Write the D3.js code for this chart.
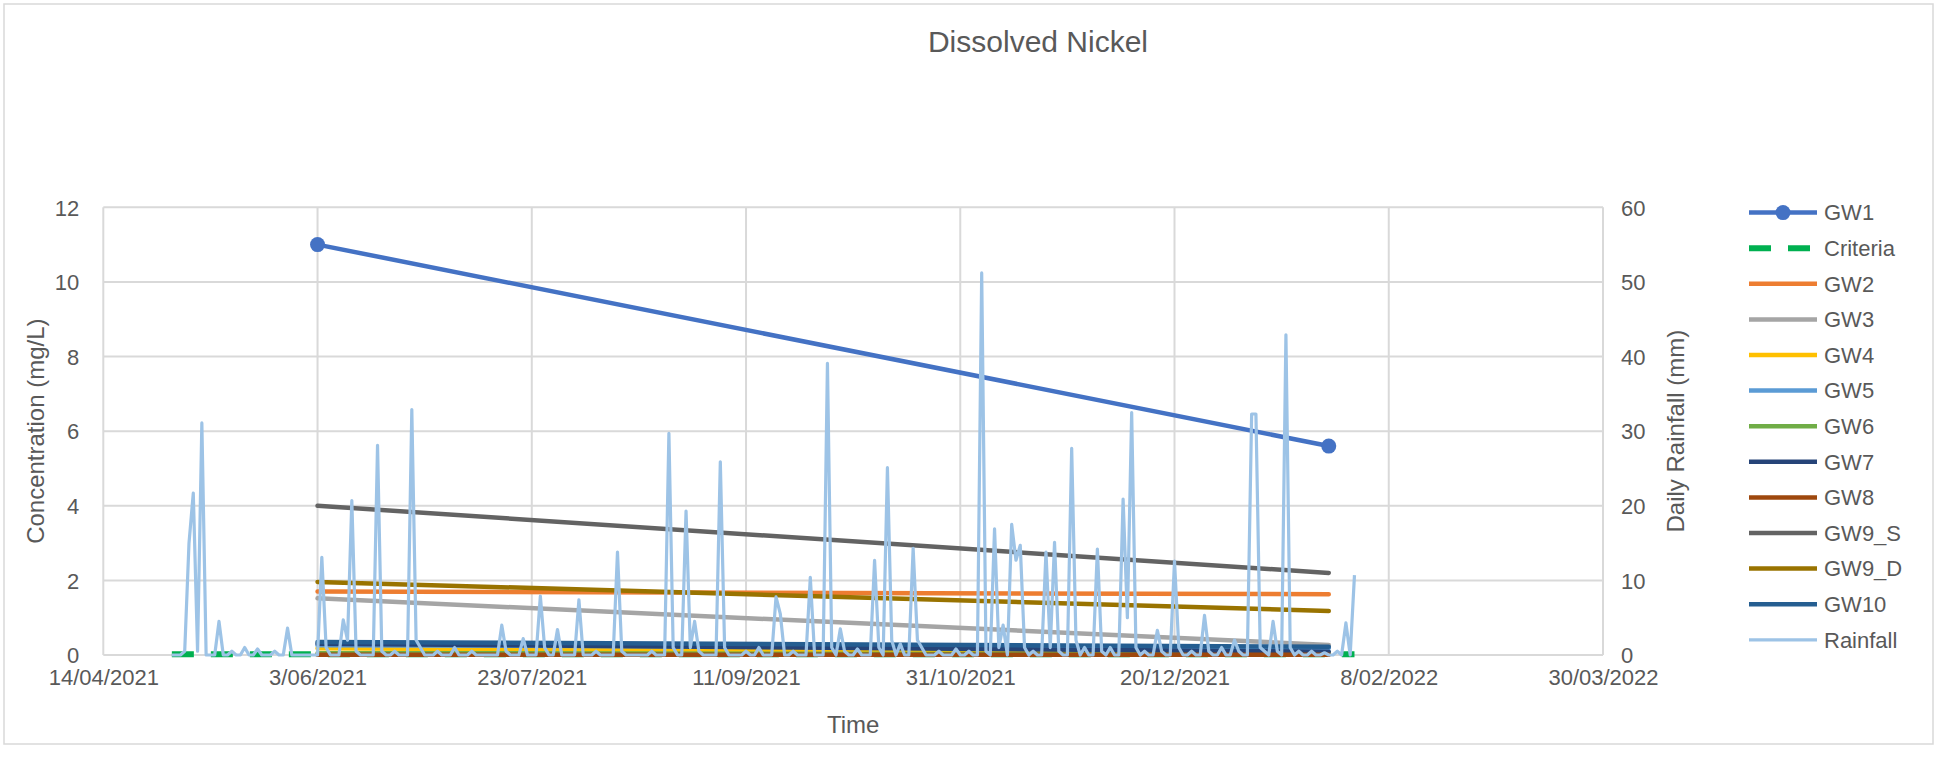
<!DOCTYPE html>
<html>
<head>
<meta charset="utf-8">
<script src="https://cdn.jsdelivr.net/npm/d3@7/dist/d3.min.js"></script>
<style>
  body { margin: 0; background: #fff; }
  text { font-family: "Liberation Sans", Arial, sans-serif; fill: #595959; }
</style>
</head>
<body>
<svg id="chart" width="1937" height="760"></svg>
<script>
// x axis tick labels (every 50 days)
const xTicks = ['14/04/2021', '3/06/2021', '23/07/2021', '11/09/2021', '31/10/2021', '20/12/2021', '8/02/2022', '30/03/2022'];
const yTicks = [0, 2, 4, 6, 8, 10, 12];
const y2Ticks = [0, 10, 20, 30, 40, 50, 60];

// groundwater samples: first and last sampling date
const sampleDates = ['3/06/2021', '25/01/2022'];
const seriesNames = ['GW1', 'Criteria', 'GW2', 'GW3', 'GW4', 'GW5', 'GW6', 'GW7', 'GW8', 'GW9_S', 'GW9_D', 'GW10', 'Rainfall'];
const gw1 = [11.0, 5.6];
const gw2 = [1.70, 1.63];
const gw3 = [1.52, 0.27];
const gw4 = [0.18, 0.05];
const gw5 = [0.26, 0.19];
const gw6 = [0.05, 0.02];
const gw7 = [0.30, 0.09];
const gw8 = [0.01, 0.005];
const gw9s = [4.0, 2.2];
const gw9d = [1.96, 1.18];
const gw10 = [0.35, 0.22];

// criteria line
const criteriaDates = ['30/04/2021', '31/01/2022'];
const criteria = [0.02, 0.02];

// daily rainfall (mm) from 30/04/2021 to 31/01/2022
const rainStart = '30/04/2021';
const rainfall = [
  0, 0, 0, 0.5, 15, 21.7, 0.5, 31.1, 0, 0,
  0, 4.5, 0, 0, 0.5, 0, 0, 1, 0, 0,
  0.8, 0, 0, 0, 0.5, 0, 0, 3.6, 0, 0,
  0, 0, 0, 0, 0, 13.1, 1, 0, 0, 0,
  4.7, 2, 20.7, 0.5, 0, 0, 0, 0, 28.1, 0.5,
  0, 0, 0.5, 0, 0, 0, 32.9, 2, 1, 0,
  0, 0, 0.5, 0, 0, 0, 1, 0, 0, 0,
  0.5, 0, 0, 0, 0, 0, 0, 4, 0.5, 0,
  0, 0, 2.2, 0, 0, 0, 7.9, 1, 0, 0,
  3.4, 0, 0, 0, 0, 7.4, 0, 0, 0, 0.5,
  0, 0, 0, 0, 13.8, 0.5, 0, 0, 0, 0,
  0, 0, 0.5, 0, 0, 0, 29.7, 1, 0, 0,
  19.3, 1, 4.5, 0.5, 0, 0, 0, 0, 25.9, 1,
  0, 0, 0, 0, 0.5, 0, 0, 1, 0, 0,
  0, 7.8, 5.5, 0, 0, 0.5, 0, 0, 0, 10.4,
  0, 0, 0, 39.1, 1, 0, 3.5, 0.5, 0, 0,
  0.8, 0, 0, 0, 12.7, 1, 0, 25.1, 2, 0,
  1.5, 0, 0, 14.3, 2, 1, 0, 0, 0, 0.5,
  0, 0, 0, 0.8, 0, 0, 0.5, 0, 0, 51.2,
  0.5, 0, 16.9, 1, 4, 0, 17.5, 12.7, 14.7, 1,
  0, 0.5, 0, 0, 13.8, 1, 15.1, 0.5, 0, 0,
  27.7, 2, 0, 1, 0, 0, 14.2, 0.5, 0, 1,
  0, 0, 20.9, 5, 32.5, 1, 0, 0.5, 0, 0,
  3.3, 0.5, 0, 0, 12.6, 1, 0, 0, 0.5, 0,
  0, 5.3, 0.5, 0, 0, 1, 0, 0, 2, 0.5,
  0, 0, 32.3, 32.3, 1, 0.5, 0, 4.5, 0.5, 0,
  42.9, 1, 0, 0.5, 0, 0, 0.5, 0, 0, 0.3,
  0, 0, 0.5, 0, 4.3, 0, 10.7
];

const colors = {
  GW1: '#4472c4', Criteria: '#00b050', GW2: '#ed7d31', GW3: '#a5a5a5', GW4: '#ffc000',
  GW5: '#5b9bd5', GW6: '#70ad47', GW7: '#264478', GW8: '#9e480e', GW9_S: '#636363',
  GW9_D: '#997300', GW10: '#255e91', Rainfall: '#9dc3e6'
};

const parse = d3.timeParse('%d/%m/%Y');
const fmt = d3.timeFormat('%-d/%m/%Y');

const svg = d3.select('#chart');
const plotLeft = 103.3, plotRight = 1603, plotTop = 207.3, plotBottom = 655;

// outer chart border
svg.append('rect')
  .attr('x', 4).attr('y', 4).attr('width', 1929).attr('height', 740)
  .attr('fill', 'none').attr('stroke', '#d9d9d9').attr('stroke-width', 1.5);

const x = d3.scaleTime()
  .domain([parse(xTicks[0]), parse(xTicks[xTicks.length - 1])])
  .range([plotLeft, plotRight]);
const y = d3.scaleLinear().domain([0, 12]).range([plotBottom, plotTop]);
const y2 = d3.scaleLinear().domain([0, 60]).range([plotBottom, plotTop]);

// gridlines
const grid = svg.append('g').attr('stroke', '#d9d9d9').attr('stroke-width', 2);
grid.selectAll('line.h').data(yTicks).enter().append('line')
  .attr('x1', plotLeft).attr('x2', plotRight)
  .attr('y1', d => y(d)).attr('y2', d => y(d));
grid.selectAll('line.v').data(xTicks).enter().append('line')
  .attr('x1', d => x(parse(d))).attr('x2', d => x(parse(d)))
  .attr('y1', plotTop).attr('y2', plotBottom);

// axes
const xAxis = svg.append('g')
  .attr('transform', `translate(0,${plotBottom})`)
  .call(d3.axisBottom(x).tickValues(xTicks.map(parse)).tickFormat(fmt).tickSize(0).tickPadding(14));
const yAxis = svg.append('g')
  .attr('transform', `translate(${plotLeft},0)`)
  .call(d3.axisLeft(y).tickValues(yTicks).tickSize(0).tickPadding(24));
const y2Axis = svg.append('g')
  .attr('transform', `translate(${plotRight},0)`)
  .call(d3.axisRight(y2).tickValues(y2Ticks).tickSize(0).tickPadding(18));
[xAxis, yAxis, y2Axis].forEach(a => {
  a.select('.domain').remove();
  a.selectAll('text').style('font-size', '22px').attr('fill', '#595959')
    .style('font-family', '"Liberation Sans", Arial, sans-serif');
});
yAxis.selectAll('text').attr('dy', '0.35em');
y2Axis.selectAll('text').attr('dy', '0.35em');

// line series
const gwData = { GW1: gw1, Criteria: criteria, GW2: gw2, GW3: gw3, GW4: gw4, GW5: gw5, GW6: gw6,
  GW7: gw7, GW8: gw8, GW9_S: gw9s, GW9_D: gw9d, GW10: gw10 };
const line = d3.line().x(d => x(d.date)).y(d => y(d.value));

const series = svg.append('g').attr('fill', 'none');
seriesNames.filter(n => n !== 'Rainfall').forEach(name => {
  const dates = name === 'Criteria' ? criteriaDates : sampleDates;
  const pts = gwData[name].map((v, i) => ({ date: parse(dates[i]), value: v }));
  const path = series.append('path')
    .datum(pts)
    .attr('d', line)
    .attr('stroke', colors[name])
    .attr('stroke-width', name === 'Criteria' ? 6 : 4.5)
    .attr('stroke-linecap', 'round');
  if (name === 'Criteria') path.attr('stroke-dasharray', '22,17').attr('stroke-linecap', 'butt');
  if (name === 'GW1') {
    series.selectAll('circle.gw1').data(pts).enter().append('circle')
      .attr('cx', d => x(d.date)).attr('cy', d => y(d.value)).attr('r', 7.5)
      .attr('fill', colors.GW1);
  }
});

// rainfall on secondary axis
const rStart = parse(rainStart);
const rainPts = rainfall.map((v, i) => ({ date: d3.timeDay.offset(rStart, i), value: v }));
svg.append('path')
  .datum(rainPts)
  .attr('fill', 'none')
  .attr('stroke', colors.Rainfall)
  .attr('stroke-width', 3.2)
  .attr('stroke-linejoin', 'round')
  .attr('d', d3.line().x(d => x(d.date)).y(d => y2(d.value)));

// title and axis titles
svg.append('text').attr('x', 1038).attr('y', 52).attr('text-anchor', 'middle')
  .style('font-size', '30px').text('Dissolved Nickel');
svg.append('text').attr('x', (plotLeft + plotRight) / 2).attr('y', 733).attr('text-anchor', 'middle')
  .style('font-size', '24px').text('Time');
svg.append('text').attr('transform', `translate(44,${(plotTop + plotBottom) / 2}) rotate(-90)`)
  .attr('text-anchor', 'middle').style('font-size', '24px').text('Concentration (mg/L)');
svg.append('text').attr('transform', `translate(1684,${(plotTop + plotBottom) / 2}) rotate(-90)`)
  .attr('text-anchor', 'middle').style('font-size', '24px').text('Daily Rainfall (mm)');

// legend
const legend = svg.append('g').attr('transform', 'translate(1749,212.6)');
const rows = legend.selectAll('g').data(seriesNames).enter().append('g')
  .attr('transform', (d, i) => `translate(0,${i * 35.6})`);
rows.append('line')
  .attr('x1', 0).attr('x2', 68).attr('y1', 0).attr('y2', 0)
  .attr('stroke', d => colors[d])
  .attr('stroke-width', d => d === 'Criteria' ? 6 : (d === 'Rainfall' ? 3.2 : 4.5))
  .attr('stroke-dasharray', d => d === 'Criteria' ? '22,17' : null);
rows.filter(d => d === 'GW1').append('circle')
  .attr('cx', 34).attr('cy', 0).attr('r', 7.5).attr('fill', colors.GW1);
rows.append('text').attr('x', 75).attr('dy', '0.35em').style('font-size', '22px').text(d => d);
</script>
</body>
</html>
